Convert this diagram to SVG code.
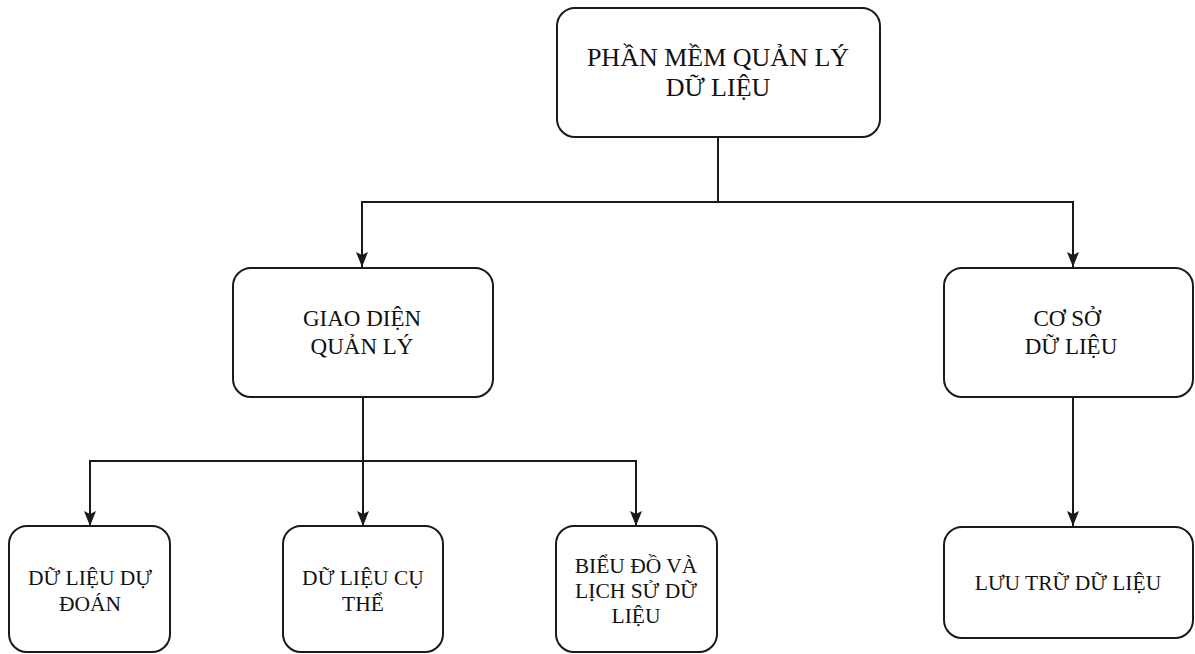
<svg xmlns="http://www.w3.org/2000/svg" width="1195" height="654" viewBox="0 0 1195 654">
  <style>
    .box { fill: #ffffff; stroke: #1a1a1a; stroke-width: 2; }
    .lbl { font-family: "Liberation Serif", "Times New Roman", serif; fill: #111111; text-anchor: middle; }
    .t1 { font-size: 26px; }
    .t2 { font-size: 23px; }
    .t3 { font-size: 21.5px; }
    .wire { fill: none; stroke: #1a1a1a; stroke-width: 2; }
  </style>
  <defs>
    <marker id="arrow" viewBox="0 0 15 12" refX="15" refY="6" markerWidth="15" markerHeight="12" markerUnits="userSpaceOnUse" orient="auto">
      <path d="M0,0 L15,6 L0,12 L3,6 Z" fill="#1a1a1a"/>
    </marker>
  </defs>
  <rect width="1195" height="654" fill="#ffffff"/>

  <g id="connectors">
    <path class="wire" d="M718,137 V202 H362 V267" marker-end="url(#arrow)"/>
    <path class="wire" d="M718,202 H1073 V267" marker-end="url(#arrow)"/>
    <path class="wire" d="M363,397 V461 H90 V526" marker-end="url(#arrow)"/>
    <path class="wire" d="M363,461 V526" marker-end="url(#arrow)"/>
    <path class="wire" d="M363,461 H636 V526" marker-end="url(#arrow)"/>
    <path class="wire" d="M1073,397 V526" marker-end="url(#arrow)"/>
  </g>

  <g id="node-root">
    <rect class="box" x="557" y="8" width="323" height="129" rx="18"/>
    <text class="lbl t1" x="718" y="66">PHẦN MỀM QUẢN LÝ</text>
    <text class="lbl t1" x="718" y="96">DỮ LIỆU</text>
  </g>

  <g id="node-giaodien">
    <rect class="box" x="233" y="268" width="260" height="129" rx="18"/>
    <text class="lbl t2" x="362" y="326">GIAO DIỆN</text>
    <text class="lbl t2" x="362" y="354">QUẢN LÝ</text>
  </g>

  <g id="node-csdl">
    <rect class="box" x="944" y="268" width="249" height="129" rx="18"/>
    <text class="lbl t2" x="1067" y="326">CƠ SỞ</text>
    <text class="lbl t2" x="1071" y="354">DỮ LIỆU</text>
  </g>

  <g id="node-dudoan">
    <rect class="box" x="9" y="526" width="161" height="126" rx="18"/>
    <text class="lbl t3" x="90" y="585">DỮ LIỆU DỰ</text>
    <text class="lbl t3" x="90" y="611">ĐOÁN</text>
  </g>

  <g id="node-cuthe">
    <rect class="box" x="283" y="526" width="160" height="126" rx="18"/>
    <text class="lbl t3" x="363" y="585">DỮ LIỆU CỤ</text>
    <text class="lbl t3" x="363" y="611">THỂ</text>
  </g>

  <g id="node-bieudo">
    <rect class="box" x="556" y="526" width="161" height="126" rx="18"/>
    <text class="lbl t3" x="636" y="573">BIỂU ĐỒ VÀ</text>
    <text class="lbl t3" x="636" y="598">LỊCH SỬ DỮ</text>
    <text class="lbl t3" x="636" y="623">LIỆU</text>
  </g>

  <g id="node-luutru">
    <rect class="box" x="944" y="527" width="249" height="111" rx="18"/>
    <text class="lbl t3" x="1068" y="590">LƯU TRỮ DỮ LIỆU</text>
  </g>
</svg>
